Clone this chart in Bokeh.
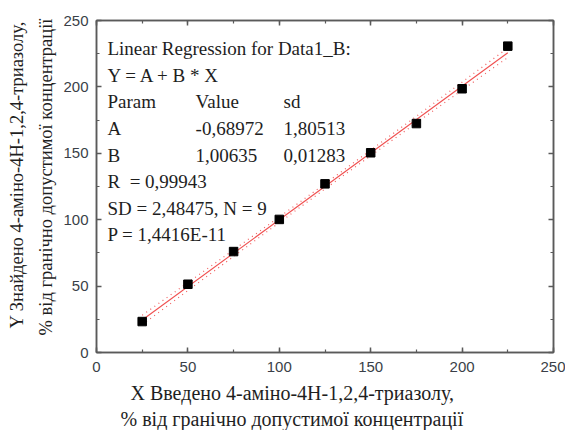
from bokeh.plotting import figure
from bokeh.models import Range1d, LinearAxis, SingleIntervalTicker, Title, ColumnDataSource, CustomJSTickFormatter
from bokeh.core.properties import value
from bokeh.embed import file_html
from bokeh.resources import INLINE

# ---- data ----
x_vals = [25, 50, 75, 100, 125, 150, 175, 200, 225]
y_vals = [23.3, 51.4, 76.0, 100.2, 127.0, 150.4, 172.4, 198.6, 230.7]
fit_A = -0.68972
fit_B = 1.00635
band_lower = [20.86, 46.63, 72.31, 97.85, 123.15, 148.16, 172.94, 197.58, 222.13]
band_upper = [28.08, 52.63, 77.27, 102.05, 127.07, 152.36, 177.90, 203.58, 229.35]

ann_lines = ["Linear Regression for Data1_B:", "Y = A + B * X"]
table_col1 = ["Param", "A", "B"]
table_col2 = ["Value", "-0,68972", "1,00635"]
table_col3 = ["sd", "1,80513", "0,01283"]
stat_lines = ["R\u00a0 = 0,99943", "SD = 2,48475, N = 9", "P = 1,4416E-11"]

x_title = ["X Введено 4-аміно-4H-1,2,4-триазолу,", "% від гранічно допустимої концентрації"]
y_title = ["Y Знайдено 4-аміно-4H-1,2,4-триазолу,", "% від гранічно допустимої концентрації"]

# ---- styling ----
AX = "#5a5a5a"
TICK_FONT = "Liberation Sans"
SERIF = "Liberation Serif"
TXT = "#1e1e1e"

p = figure(width=565, height=430, x_range=Range1d(0, 250), y_range=Range1d(0, 250),
           output_backend="svg", toolbar_location=None,
           min_border_left=96, min_border_right=12, min_border_top=20, min_border_bottom=78)
p.grid.grid_line_color = None
p.outline_line_color = AX
p.outline_line_width = 1.5
p.background_fill_color = "white"
p.border_fill_color = "white"


def style_axis(ax, show_labels):
    ax.ticker = SingleIntervalTicker(interval=50, num_minor_ticks=2)
    ax.axis_line_color = AX
    ax.axis_line_width = 1.5
    ax.major_tick_line_color = AX
    ax.minor_tick_line_color = AX
    ax.major_tick_line_width = 1.5
    ax.minor_tick_line_width = 1.2
    ax.major_tick_in = 5
    ax.major_tick_out = 0
    ax.minor_tick_in = 3
    ax.minor_tick_out = 0
    if show_labels:
        ax.major_label_text_font = TICK_FONT
        ax.major_label_text_font_size = "15px"
        ax.major_label_text_color = "#3a3f48"
    else:
        ax.formatter = CustomJSTickFormatter(code="return '';")
        ax.major_label_standoff = 0


style_axis(p.xaxis[0], True)
style_axis(p.yaxis[0], True)
p.xaxis[0].major_label_standoff = 9
p.yaxis[0].major_label_standoff = 8

top = LinearAxis()
right = LinearAxis()
style_axis(top, False)
style_axis(right, False)
p.add_layout(top, "above")
p.add_layout(right, "right")

# confidence band (dotted)
p.line(x_vals, band_lower, line_color="#f06060", line_width=1.2, line_dash="1 4")
p.line(x_vals, band_upper, line_color="#f06060", line_width=1.2, line_dash="1 4")
# regression line
fit_x = [x_vals[0], x_vals[-1]]
fit_y = [fit_A + fit_B * v for v in fit_x]
p.line(fit_x, fit_y, line_color="#f05050", line_width=1.1)
# data points
p.scatter(x_vals, y_vals, marker="square", size=8.5, fill_color="black", line_color="black")

# annotation text
ann_src_text = []
ann_x = []
ann_y = []
base = 228.7
step = 20.03
col_x = [6.0, 54.2, 102.3]
row = 0
for t in ann_lines:
    ann_src_text.append(t); ann_x.append(col_x[0]); ann_y.append(base - step * row); row += 1
for i in range(len(table_col1)):
    for cx, col in zip(col_x, [table_col1, table_col2, table_col3]):
        ann_src_text.append(col[i]); ann_x.append(cx); ann_y.append(base - step * row)
    row += 1
for t in stat_lines:
    ann_src_text.append(t); ann_x.append(col_x[0]); ann_y.append(base - step * row); row += 1

src = ColumnDataSource(dict(x=ann_x, y=ann_y, t=ann_src_text))
p.text(x="x", y="y", text="t", source=src, text_font=value(SERIF), text_font_size="19px",
       text_color=TXT, text_baseline="alphabetic", text_align="left")

# axis titles as stacked Title annotations
def add_title(text, where, offset, standoff, size):
    t = Title(text=text, align="left", offset=offset, standoff=standoff,
              text_font=SERIF, text_font_size=size, text_font_style="normal",
              text_color=TXT)
    p.add_layout(t, where)

add_title(x_title[0], "below", 34, 11, "20px")
add_title(x_title[1], "below", 24, -8, "20px")
add_title(y_title[1], "left", 17, 10, "18.5px")
add_title(y_title[0], "left", 24, 3, "18.5px")

open("out.html", "w").write(file_html(p, INLINE))
